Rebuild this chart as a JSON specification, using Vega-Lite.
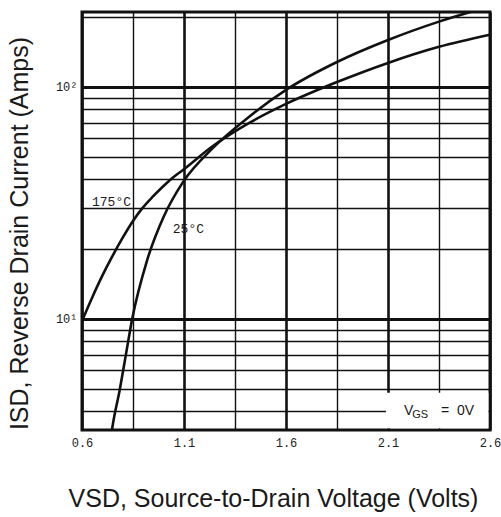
{
  "$schema": "https://vega.github.io/schema/vega-lite/v6.json",
  "width": 408,
  "height": 418,
  "autosize": "none",
  "padding": {"left": 82, "top": 12, "right": 11, "bottom": 87},
  "background": "white",
  "config": {"view": {"stroke": "#111", "strokeWidth": 3}},
  "layer": [
    {
      "data": {"values": [
        {"series": "175C", "v": 0.6, "i": 9.8},
        {"series": "175C", "v": 0.649, "i": 12.32},
        {"series": "175C", "v": 0.698, "i": 15.25},
        {"series": "175C", "v": 0.747, "i": 18.5},
        {"series": "175C", "v": 0.796, "i": 22.13},
        {"series": "175C", "v": 0.85, "i": 26.45},
        {"series": "175C", "v": 0.899, "i": 30.25},
        {"series": "175C", "v": 0.948, "i": 33.73},
        {"series": "175C", "v": 0.997, "i": 37.25},
        {"series": "175C", "v": 1.046, "i": 40.74},
        {"series": "175C", "v": 1.095, "i": 43.9},
        {"series": "175C", "v": 1.24, "i": 55.5},
        {"series": "175C", "v": 1.42, "i": 70},
        {"series": "175C", "v": 1.6, "i": 84.5},
        {"series": "175C", "v": 1.85, "i": 105},
        {"series": "175C", "v": 2.1, "i": 127},
        {"series": "175C", "v": 2.35, "i": 149},
        {"series": "175C", "v": 2.6, "i": 168},
        {"series": "25C", "v": 0.738, "i": 2.9},
        {"series": "25C", "v": 0.747, "i": 3.32},
        {"series": "25C", "v": 0.786, "i": 5.0},
        {"series": "25C", "v": 0.815, "i": 7.0},
        {"series": "25C", "v": 0.845, "i": 9.9},
        {"series": "25C", "v": 0.92, "i": 18},
        {"series": "25C", "v": 1.002, "i": 27.8},
        {"series": "25C", "v": 1.095, "i": 38.9},
        {"series": "25C", "v": 1.242, "i": 54.6},
        {"series": "25C", "v": 1.424, "i": 75.0},
        {"series": "25C", "v": 1.6, "i": 97.1},
        {"series": "25C", "v": 1.85, "i": 128.1},
        {"series": "25C", "v": 2.1, "i": 159.4},
        {"series": "25C", "v": 2.35, "i": 191.3},
        {"series": "25C", "v": 2.6, "i": 222.7}
      ]},
      "mark": {"type": "line", "clip": true, "interpolate": "monotone", "color": "#111", "strokeWidth": 2.6},
      "encoding": {
        "x": {
          "field": "v", "type": "quantitative",
          "scale": {"domain": [0.6, 2.6], "nice": false, "zero": false},
          "axis": {
            "title": "VSD, Source-to-Drain Voltage (Volts)",
            "titleFont": "Liberation Sans", "titleFontSize": 25, "titleFontWeight": "normal", "titleColor": "#1a1a1a",
            "titleX": 191, "titleY": 76, "titleBaseline": "alphabetic", "titleAlign": "center", "titleAnchor": null,
            "values": [0.6, 0.85, 1.1, 1.35, 1.6, 1.85, 2.1, 2.35, 2.6],
            "labelExpr": "abs((datum.value - 0.6) / 0.5 - round((datum.value - 0.6) / 0.5)) < 0.01 ? format(datum.value, '.1f') : ''",
            "labelFont": "Liberation Mono", "labelFontSize": 12, "labelColor": "#222",
            "labelPadding": 7, "labelOverlap": false, "labelFlush": false, "labelBound": false,
            "ticks": false, "domain": false,
            "grid": true, "gridColor": "#111", "gridOpacity": 1,
            "gridWidth": {"condition": {"test": "abs((datum.value - 0.6) / 0.5 - round((datum.value - 0.6) / 0.5)) < 0.01", "value": 2.6}, "value": 1.4}
          }
        },
        "y": {
          "field": "i", "type": "quantitative",
          "scale": {"type": "log", "domain": [3.32, 210.5], "nice": false},
          "axis": {
            "title": "ISD, Reverse Drain Current (Amps)",
            "titleFont": "Liberation Sans", "titleFontSize": 25, "titleFontWeight": "normal", "titleColor": "#1a1a1a",
            "titleX": -55, "titleY": 221, "titleAngle": -90, "titleBaseline": "alphabetic", "titleAlign": "center", "titleAnchor": null,
            "values": [4, 5, 6, 7, 8, 9, 10, 20, 30, 40, 50, 60, 70, 80, 90, 100, 200],
            "labelExpr": "datum.value == 10 ? '10¹' : datum.value == 100 ? '10²' : ''",
            "labelFont": "Liberation Mono", "labelFontSize": 12, "labelColor": "#222",
            "labelPadding": 5, "labelOverlap": false, "labelBound": false,
            "ticks": false, "domain": false,
            "grid": true, "gridColor": "#111", "gridOpacity": 1,
            "gridWidth": {"condition": {"test": "datum.value == 10 || datum.value == 100", "value": 2.8}, "value": 1.4}
          }
        },
        "detail": {"field": "series"}
      }
    },
    {
      "data": {"values": [{}]},
      "mark": {"type": "rect", "color": "white", "opacity": 1},
      "encoding": {
        "x": {"datum": 2.09}, "x2": {"datum": 2.592},
        "y": {"datum": 3.38}, "y2": {"datum": 4.8}
      }
    },
    {
      "data": {"values": [
        {"label": "175°C", "v": 0.649, "i": 31.9},
        {"label": "25°C", "v": 1.045, "i": 24.4}
      ]},
      "mark": {"type": "text", "align": "left", "baseline": "middle", "font": "Liberation Mono", "fontSize": 13, "color": "#1a1a1a"},
      "encoding": {
        "x": {"field": "v", "type": "quantitative"},
        "y": {"field": "i", "type": "quantitative"},
        "text": {"field": "label"}
      }
    },
    {
      "data": {"values": [{}]},
      "mark": {"type": "text", "align": "left", "baseline": "alphabetic", "font": "Liberation Sans", "fontSize": 14, "color": "#1a1a1a"},
      "encoding": {"x": {"datum": 2.179}, "y": {"datum": 3.86}, "text": {"value": "V"}}
    },
    {
      "data": {"values": [{}]},
      "mark": {"type": "text", "align": "left", "baseline": "alphabetic", "font": "Liberation Sans", "fontSize": 11, "color": "#1a1a1a"},
      "encoding": {"x": {"datum": 2.219}, "y": {"datum": 3.74}, "text": {"value": "GS"}}
    },
    {
      "data": {"values": [{}]},
      "mark": {"type": "text", "align": "left", "baseline": "alphabetic", "font": "Liberation Sans", "fontSize": 14, "color": "#1a1a1a"},
      "encoding": {"x": {"datum": 2.36}, "y": {"datum": 3.86}, "text": {"value": "=\u00a0\u00a00V"}}
    }
  ]
}
